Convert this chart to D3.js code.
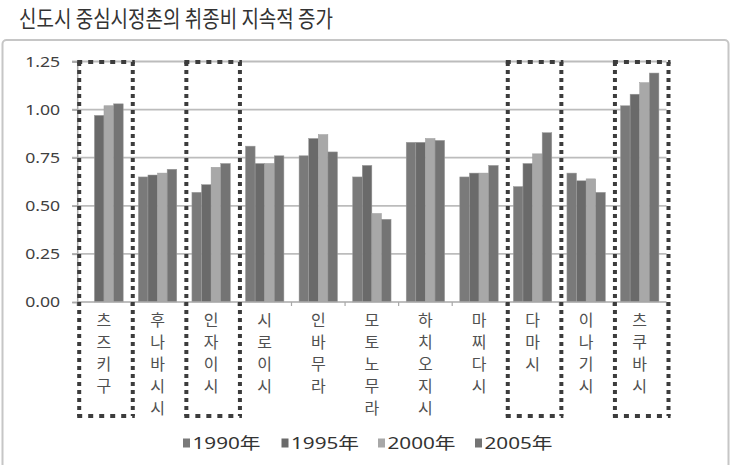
<!DOCTYPE html>
<html><head><meta charset="utf-8">
<script src="https://cdn.jsdelivr.net/npm/d3@7"></script>
<style>html,body{margin:0;padding:0;background:#fff;}svg{display:block;}</style>
</head><body>
<svg id="chart" width="737" height="465"></svg>
<script>
const title = "신도시 중심시정촌의 취종비 지속적 증가";
const categories = ["츠즈키구","후나바시시","인자이시","시로이시","인바무라","모토노무라","하치오지시","마찌다시","다마시","이나기시","츠쿠바시"];
const seriesNames = ["1990年","1995年","2000年","2005年"];
const v1990 = [null, 0.65, 0.57, 0.81, 0.76, 0.65, 0.83, 0.65, 0.60, 0.67, 1.02];
const v1995 = [0.97, 0.66, 0.61, 0.72, 0.85, 0.71, 0.83, 0.67, 0.72, 0.63, 1.08];
const v2000 = [1.02, 0.67, 0.70, 0.72, 0.87, 0.46, 0.85, 0.67, 0.77, 0.64, 1.14];
const v2005 = [1.03, 0.69, 0.72, 0.76, 0.78, 0.43, 0.84, 0.71, 0.88, 0.57, 1.19];
const yTicks = [0, 0.25, 0.5, 0.75, 1.0, 1.25];
const highlighted = ["츠즈키구","인자이시","다마시","츠쿠바시"];
const colors = ["#7a7a7a","#6a6a6a","#a8a8a8","#747474"];

const seriesValues = [v1990, v1995, v2000, v2005];
const svg = d3.select("#chart");
const FONT = "'Noto Sans','Noto Sans CJK KR',sans-serif";
const KFONT = "'Noto Sans CJK KR','Noto Sans',sans-serif";

// frame
svg.append("rect").attr("x",2.5).attr("y",40).attr("width",726).attr("height",440)
  .attr("rx",4).attr("fill","#fff").attr("stroke","#c6c6c6").attr("stroke-width",2);

// title
svg.append("text").attr("x",19).attr("y",27).text(title)
  .attr("font-family",KFONT).attr("font-size",23).attr("fill","#333")
  .attr("textLength",314).attr("lengthAdjust","spacingAndGlyphs");

const x = d3.scaleBand().domain(categories).range([77.2,666.5]).paddingInner(0).paddingOuter(0);
const xs = d3.scaleBand().domain(seriesNames).range([0,x.bandwidth()]).paddingInner(0).paddingOuter(0.79);
const y = d3.scaleLinear().domain([0,1.25]).range([302,61.5]);

// gridlines
svg.append("g").selectAll("line").data(yTicks.filter(d=>d>0)).join("line")
  .attr("x1",72).attr("x2",666.5).attr("y1",d=>y(d)).attr("y2",d=>y(d))
  .attr("stroke","#bcbcbc").attr("stroke-width",1.8);

// y axis
const yAxis = svg.append("g").attr("transform","translate(77.2,0)")
  .call(d3.axisLeft(y).tickValues(yTicks).tickFormat(d3.format(".2f")).tickSize(5).tickPadding(12));
yAxis.select(".domain").attr("stroke","#a8a8a8").attr("stroke-width",1.5);
yAxis.selectAll(".tick line").attr("stroke","#a8a8a8").attr("stroke-width",1.5);
yAxis.selectAll(".tick text").attr("font-family",FONT).attr("font-size",14.5).attr("fill","#404040")
  .attr("textLength",35).attr("lengthAdjust","spacingAndGlyphs");

// bars
const rows = [];
categories.forEach((c,i)=>seriesNames.forEach((s,j)=>{
  if (seriesValues[j][i] != null) rows.push({c, s, v: seriesValues[j][i], j});
}));
svg.append("g").selectAll("rect").data(rows).join("rect")
  .attr("x",d=>x(d.c)+xs(d.s)).attr("width",xs.bandwidth())
  .attr("y",d=>y(d.v)).attr("height",d=>y(0)-y(d.v))
  .attr("fill",d=>colors[d.j]).attr("stroke","#9c9c9c").attr("stroke-width",0.5);

// x axis
const xAxisG = svg.append("g");
xAxisG.append("line").attr("x1",77.2).attr("x2",666.5).attr("y1",302).attr("y2",302)
  .attr("stroke","#a8a8a8").attr("stroke-width",1.5);
xAxisG.selectAll("line.t").data(d3.range(categories.length+1)).join("line").attr("class","t")
  .attr("x1",i=>77.2+i*x.step()).attr("x2",i=>77.2+i*x.step())
  .attr("y1",302).attr("y2",306).attr("stroke","#a8a8a8").attr("stroke-width",1.2);

// vertical category labels
const lab = svg.append("g");
categories.forEach(c=>{
  const cx = x(c)+x.bandwidth()/2;
  Array.from(c).forEach((ch,k)=>{
    lab.append("text").attr("x",cx).attr("y",320+k*22.2).attr("dy","0.35em")
      .attr("text-anchor","middle").attr("font-family",KFONT).attr("font-size",16)
      .attr("fill","#505050").text(ch);
  });
});

// dotted highlight boxes
const boxes = svg.append("g");
highlighted.forEach(c=>{
  const x0 = x(c)+2, x1 = x(c)+x.bandwidth()+2, y0 = 62, y1 = 416;
  const stroke = "#3c3c3c";
  boxes.append("line").attr("x1",x0).attr("x2",x0).attr("y1",y0).attr("y2",y1)
    .attr("stroke",stroke).attr("stroke-width",4).attr("stroke-dasharray","4,4");
  boxes.append("line").attr("x1",x1).attr("x2",x1).attr("y1",y0).attr("y2",y1)
    .attr("stroke",stroke).attr("stroke-width",4).attr("stroke-dasharray","4,4");
  boxes.append("line").attr("x1",x0-2).attr("x2",x1+2).attr("y1",y0).attr("y2",y0)
    .attr("stroke",stroke).attr("stroke-width",4).attr("stroke-dasharray","5,6");
  boxes.append("line").attr("x1",x0-2).attr("x2",x1+2).attr("y1",y1).attr("y2",y1)
    .attr("stroke",stroke).attr("stroke-width",4).attr("stroke-dasharray","5,6");
});

// legend
const legendX = [183, 281.5, 378, 475];
const leg = svg.append("g");
seriesNames.forEach((s,j)=>{
  leg.append("rect").attr("x",legendX[j]).attr("y",438.5).attr("width",7).attr("height",9).attr("fill",colors[j]);
  leg.append("text").attr("x",legendX[j]+9.5).attr("y",443.5).attr("dy","0.35em")
    .attr("font-family",FONT).attr("font-size",16).attr("fill","#333")
    .attr("textLength",68).attr("lengthAdjust","spacingAndGlyphs").text(s);
});
</script>
</body></html>
